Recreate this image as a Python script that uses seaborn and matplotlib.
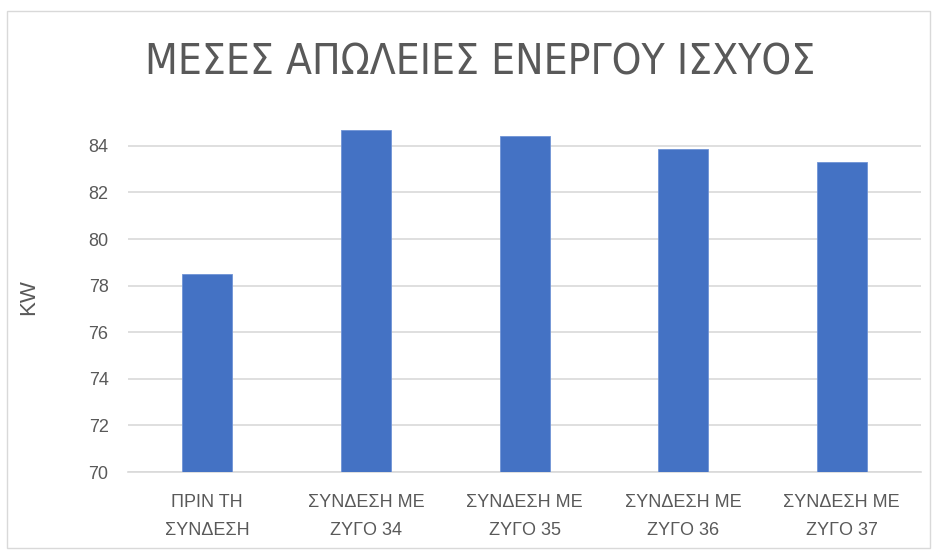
import matplotlib
matplotlib.use("Agg")
import matplotlib.pyplot as plt
import seaborn as sns
import pandas as pd
from matplotlib.patches import Rectangle
from matplotlib import font_manager

categories = ["ΠΡΙΝ ΤΗ\nΣΥΝΔΕΣΗ", "ΣΥΝΔΕΣΗ ΜΕ\nΖΥΓΟ 34", "ΣΥΝΔΕΣΗ ΜΕ\nΖΥΓΟ 35",
              "ΣΥΝΔΕΣΗ ΜΕ\nΖΥΓΟ 36", "ΣΥΝΔΕΣΗ ΜΕ\nΖΥΓΟ 37"]
values = [78.49, 84.66, 84.43, 83.88, 83.32]
yticks = [70, 72, 74, 76, 78, 80, 82, 84]
title = "ΜΕΣΕΣ ΑΠΩΛΕΙΕΣ ΕΝΕΡΓΟΥ ΙΣΧΥΟΣ"
ylabel = "KW"

sns.set_theme(style="white")
plt.rcParams['font.family'] = ['Liberation Sans', 'DejaVu Sans']

names = {f.name for f in font_manager.fontManager.ttflist}
title_family = ['DejaVu Sans'] 
title_stretch = 'condensed'

df = pd.DataFrame({"cat": categories, "val": values})

fig = plt.figure(figsize=(9.37, 5.55), dpi=100)
fig.patch.set_facecolor("white")
fig.patches.append(Rectangle((0.007, 0.013), 0.985, 0.968, transform=fig.transFigure,
                             fill=False, edgecolor="#d9d9d9", linewidth=1))

ax = fig.add_axes([0.1366, 0.1495, 0.8464, 0.6297])
sns.barplot(data=df, x="cat", y="val", color="#4472c4", width=0.315, ax=ax,
            saturation=1, edgecolor="#6f93d6", linewidth=0.6, zorder=3)
ax.set_ylim(70, 85)
ax.set_xlim(-0.5, 4.5)
ax.set_yticks(yticks)
ax.set_yticklabels([str(t) for t in yticks])
ax.grid(axis="y", color="#d9d9d9", linewidth=1.2, zorder=0)
ax.set_axisbelow(True)
for s in ["top", "right", "left"]:
    ax.spines[s].set_visible(False)
ax.spines["bottom"].set_color("#d9d9d9")
ax.spines["bottom"].set_linewidth(1.2)
ax.tick_params(axis="both", length=0, colors="#595959", labelsize=13)
ax.tick_params(axis="y", pad=14)
ax.tick_params(axis="x", pad=16)
for lbl in ax.get_xticklabels():
    lbl.set_linespacing(1.85)
ax.set_xlabel("")
ax.set_ylabel(ylabel, color="#595959", fontsize=16, labelpad=12)
ax.yaxis.set_label_coords(-0.112, 0.5)

t = fig.text(0.512, 0.888, title, ha="center", va="center", fontsize=34, color="#595959",
             family=title_family, stretch=title_stretch)
# fit the title width to the reference (~670 px)
fig.canvas.draw()
w = t.get_window_extent().width
if w > 0:
    t.set_fontsize(34 * min(1.0, 670.0 / w))

fig.savefig("out.png", dpi=100, facecolor="white")
